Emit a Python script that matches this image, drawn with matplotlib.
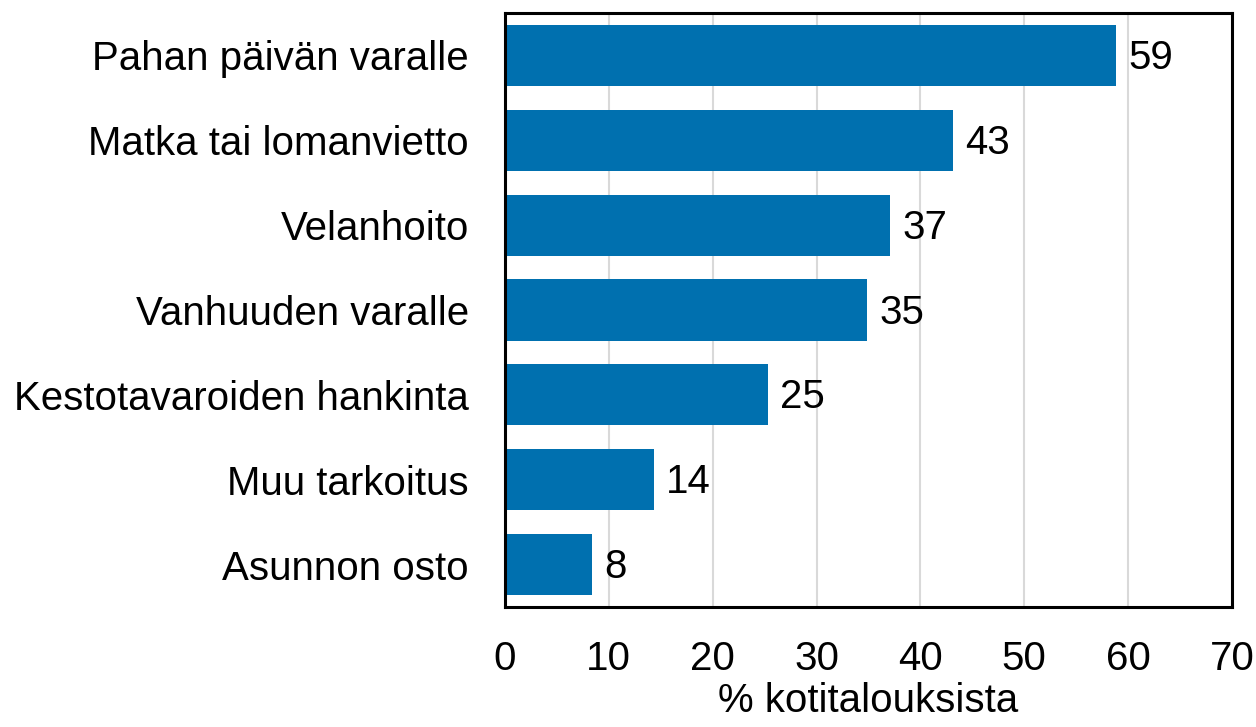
import matplotlib
matplotlib.use("Agg")
import matplotlib.pyplot as plt

categories = ["Pahan päivän varalle", "Matka tai lomanvietto", "Velanhoito",
              "Vanhuuden varalle", "Kestotavaroiden hankinta", "Muu tarkoitus",
              "Asunnon osto"]
values = [58.8, 43.1, 37.1, 34.9, 25.3, 14.3, 8.4]
xticks = [0, 10, 20, 30, 40, 50, 60, 70]
xlabel = "% kotitalouksista"

plt.rcParams['font.family'] = ['Liberation Sans', 'DejaVu Sans']
FS = 29

fig = plt.figure(figsize=(12.56, 7.27), dpi=100)
ax = fig.add_axes([505/1256, 1 - 607/727, (1232 - 505)/1256, (607 - 13)/727])

y = list(range(len(categories)))
ax.barh(y, values, height=0.72, color="#0070AF", zorder=2)
ax.set_ylim(len(categories) - 0.5, -0.5)
ax.set_xlim(0, 70)
ax.set_xticks(xticks)
ax.set_xticklabels([str(t) for t in xticks], fontsize=FS)
ax.set_yticks(y)
ax.set_yticklabels(categories, fontsize=FS)
ax.tick_params(axis='y', length=0, pad=26)
ax.tick_params(axis='x', length=0, pad=24)
ax.grid(axis='x', color="#d9d9d9", linewidth=1.5, zorder=0)
for s in ax.spines.values():
    s.set_linewidth(2.2)
    s.set_color("black")
for yi, v in zip(y, values):
    ax.text(v + 1.2, yi + 0.03, f"{v:.0f}", va="center", ha="left", fontsize=FS)
ax.set_xlabel(xlabel, fontsize=FS, labelpad=3)

fig.savefig("out.png", dpi=100)
